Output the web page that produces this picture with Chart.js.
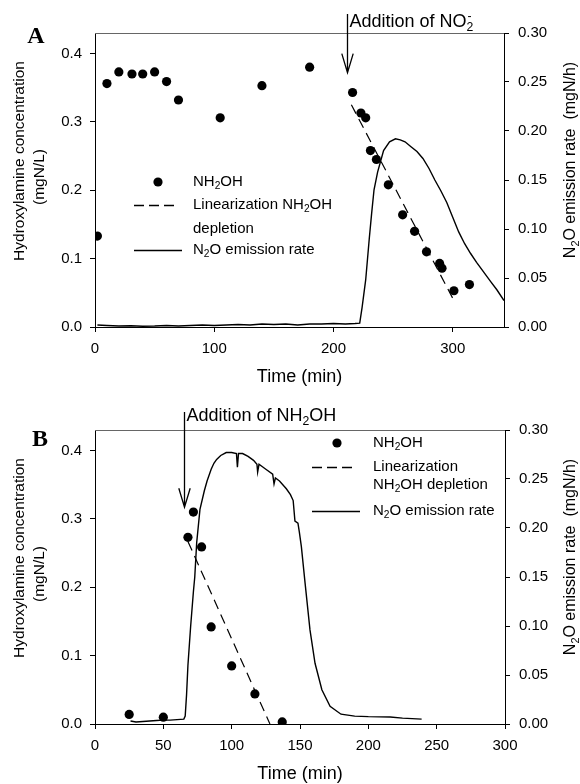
<!DOCTYPE html>
<html>
<head>
<meta charset="utf-8">
<script src="https://cdn.jsdelivr.net/npm/chart.js@4/dist/chart.umd.min.js"></script>
<style>
  html, body { margin: 0; padding: 0; background: #fff; }
  #wrap { position: relative; width: 580px; height: 784px; }
  canvas { position: absolute; left: 0; }
</style>
</head>
<body>
<div id="wrap">
  <canvas id="chartA" width="580" height="392" style="top:0"></canvas>
  <canvas id="chartB" width="580" height="392" style="top:392px"></canvas>
</div>
<script>
// ---- panel A data ----
const timeA  = [2, 10, 20, 31, 40, 50, 60, 70, 105, 140, 180, 216, 223, 227, 231, 236, 246, 258, 268, 278, 289, 291, 301, 314];
const nh2ohA = [0.133, 0.356, 0.373, 0.370, 0.370, 0.373, 0.359, 0.332, 0.306, 0.353, 0.380, 0.343, 0.313, 0.306, 0.258, 0.245, 0.208, 0.164, 0.140, 0.110, 0.093, 0.086, 0.053, 0.062];
const fitTimeA = [215, 300];
const fitA     = [0.325, 0.042];
const n2oTimeA = [2, 10, 20, 30, 40, 50, 60, 70, 80, 90, 100, 110, 120, 130, 140, 150, 160, 170, 180, 190, 200, 210, 218, 222,
  224, 227, 230, 232, 234, 237, 242, 247, 252, 256, 260, 265, 270, 275, 280, 285, 290, 295, 300, 305, 310, 315, 320, 326, 332, 337, 343];
const n2oA = [0.002, 0.0015, 0.001, 0.0012, 0.0008, 0.001, 0.0015, 0.001, 0.0015, 0.002, 0.0015, 0.002, 0.0025, 0.002, 0.003, 0.0025, 0.003, 0.002, 0.003, 0.003, 0.0035, 0.003, 0.0035, 0.004,
  0.02, 0.048, 0.09, 0.116, 0.14, 0.158, 0.18, 0.189, 0.192, 0.191, 0.189, 0.184, 0.179, 0.172, 0.162, 0.150, 0.139, 0.127, 0.112, 0.097, 0.085, 0.075, 0.066, 0.056, 0.046, 0.038, 0.027];
const xTicksA = [0, 100, 200, 300];

// ---- panel B data ----
const timeB  = [25, 50, 68, 72, 78, 85, 100, 117, 137];
const nh2ohB = [0.014, 0.010, 0.273, 0.310, 0.259, 0.142, 0.085, 0.044, 0.003];
const fitTimeB = [68, 128];
const fitB     = [0.267, 0.0];
const n2oTimeB = [26, 30, 35, 40, 45, 50, 55, 60, 65, 66, 67, 68, 70, 72, 73, 74.4, 76.8, 80, 82, 85, 87, 89, 92, 96, 100, 103.5, 104.2, 105, 108, 112, 116, 118.5, 119, 120, 125, 130, 131, 132, 135, 140, 143,
  145, 146.3, 148.5, 149.5, 151, 153.7, 157.3, 161, 166, 172, 180, 190, 200, 216, 225, 232, 239];
const n2oB = [0.003, 0.002, 0.0025, 0.003, 0.0035, 0.004, 0.004, 0.0045, 0.005, 0.008, 0.03, 0.06, 0.10, 0.135, 0.15, 0.185, 0.219, 0.238, 0.248, 0.260, 0.266, 0.270, 0.274, 0.277, 0.277, 0.276, 0.262, 0.276, 0.276, 0.273, 0.269, 0.265, 0.257, 0.265, 0.260, 0.255, 0.245, 0.251, 0.248, 0.24, 0.234,
  0.228, 0.207, 0.205, 0.196, 0.181, 0.144, 0.096, 0.062, 0.035, 0.018, 0.010, 0.008, 0.0075, 0.0072, 0.006, 0.0055, 0.005];
const xTicksB = [0, 50, 100, 150, 200, 250, 300];

// shared axis ticks
const yTicks  = [0, 0.1, 0.2, 0.3, 0.4];
const y2Ticks = [0, 0.05, 0.10, 0.15, 0.20, 0.25, 0.30];

const FONT = '"Liberation Sans", Arial, sans-serif';
Chart.defaults.font.family = FONT;
Chart.defaults.color = '#000';

// text with sub (1) / sup stacked over previous sub (2)
function drawRich(ctx, parts, x, y, size, align) {
  const small = size * 0.68;
  let w = 0, prevW = 0;
  const items = parts.map(([t, k = 0]) => {
    ctx.font = (k ? small : size) + 'px ' + FONT;
    const tw = ctx.measureText(t).width;
    let dx = w;
    if (k === 2) { dx = w - prevW + 1; w += Math.max(0, tw - prevW + 1); }
    else w += tw;
    prevW = tw;
    return { t, k, dx };
  });
  const x0 = align === 'center' ? x - w / 2 : x;
  ctx.textAlign = 'left';
  ctx.textBaseline = 'middle';
  for (const it of items) {
    ctx.font = (it.k ? small : size) + 'px ' + FONT;
    const dy = it.k === 1 ? size * 0.3 : (it.k === 2 ? -size * 0.32 : 0);
    ctx.fillText(it.t, x0 + it.dx, y + dy);
  }
}

const NH2OH = [['NH'], ['2', 1], ['OH']];
const N2O_RATE = [['N'], ['2', 1], ['O emission rate']];

function decor(p) {
  return {
    id: 'decor' + p.label,
    afterDraw(chart) {
      const ctx = chart.ctx, a = chart.chartArea;
      const xs = chart.scales.x, ys = chart.scales.y;
      ctx.save();
      ctx.fillStyle = '#000';

      // top of the frame
      ctx.strokeStyle = '#666';
      ctx.lineWidth = 1;
      ctx.beginPath();
      ctx.moveTo(a.left, Math.round(a.top) + 0.5);
      ctx.lineTo(a.right, Math.round(a.top) + 0.5);
      ctx.stroke();
      ctx.strokeStyle = '#000';

      // panel letter
      ctx.font = 'bold 24px "Liberation Serif", serif';
      ctx.textAlign = 'center';
      ctx.textBaseline = 'middle';
      ctx.fillText(p.label, p.labelX, p.labelY);

      // addition arrow
      const ax = Math.round(xs.getPixelForValue(p.arrowT)) + 0.5;
      const tip = ys.getPixelForValue(p.arrowTip);
      ctx.lineWidth = 1.3;
      ctx.beginPath();
      ctx.moveTo(ax, p.arrowTop);
      ctx.lineTo(ax, tip);
      ctx.moveTo(ax - 5.7, tip - 19);
      ctx.lineTo(ax, tip);
      ctx.lineTo(ax + 5.7, tip - 19);
      ctx.stroke();
      drawRich(ctx, p.arrowText, ax + 2, p.arrowTextY, 18, 'left');

      // axis titles
      ctx.save();
      ctx.translate(19.5, a.top + 128);
      ctx.rotate(-Math.PI / 2);
      drawRich(ctx, [['Hydroxylamine concentration']], 0, 0, 15.5, 'center');
      ctx.restore();
      ctx.save();
      ctx.translate(39.5, a.top + 144);
      ctx.rotate(-Math.PI / 2);
      drawRich(ctx, [['(mgN/L)']], 0, 0, 15.5, 'center');
      ctx.restore();
      ctx.save();
      ctx.translate(571, a.top + 127);
      ctx.rotate(-Math.PI / 2);
      drawRich(ctx, [['N'], ['2', 1], ['O emission rate  (mgN/h)']], 0, 0, 16, 'center');
      ctx.restore();
      drawRich(ctx, [['Time (min)']], (a.left + a.right) / 2, a.bottom + 50, 18, 'center');

      // legend
      const L = p.legend;
      for (const row of L.rows) {
        if (row.kind === 'point') {
          ctx.beginPath();
          ctx.arc(L.markerX, row.y, 4.6, 0, Math.PI * 2);
          ctx.fill();
        } else {
          const ly = Math.round(row.y) + 0.5;
          ctx.lineWidth = 1.3;
          ctx.setLineDash(row.kind === 'dash' ? [10, 5] : []);
          ctx.beginPath();
          ctx.moveTo(L.lineX1, ly);
          ctx.lineTo(row.kind === 'dash' ? L.dashX2 : L.solidX2, ly);
          ctx.stroke();
          ctx.setLineDash([]);
        }
        row.lines.forEach((parts, i) => drawRich(ctx, parts, L.textX, row.y + i * row.gap, 15, 'left'));
      }
      ctx.restore();
    }
  };
}

function axis(pos, max, ticks, fmt, size, pad) {
  return {
    type: 'linear', position: pos, axis: pos === 'bottom' ? 'x' : 'y', min: 0, max: max,
    afterBuildTicks: s => { s.ticks = ticks.map(v => ({ value: v })); },
    afterFit: s => { if (pos === 'bottom') s.height = size; else s.width = size; },
    grid: { drawOnChartArea: false, drawTicks: true, tickLength: 5, color: '#000', lineWidth: 1 },
    border: { display: true, color: '#000', width: 1 },
    ticks: { color: '#000', font: { size: 15 }, padding: pad, autoSkip: false, maxRotation: 0, callback: v => fmt(v) }
  };
}

function makeChart(id, p) {
  const pts = (xs, ys) => xs.map((t, i) => ({ x: t, y: ys[i] }));
  return new Chart(document.getElementById(id), {
    type: 'scatter',
    data: {
      datasets: [
        { data: pts(p.time, p.nh2oh), yAxisID: 'y', showLine: false, pointRadius: 4.6,
          pointBackgroundColor: '#000', pointBorderWidth: 0 },
        { data: pts(p.fitTime, p.fit), yAxisID: 'y', showLine: true, borderColor: '#000',
          borderWidth: 1.2, borderDash: [10, 6], pointRadius: 0 },
        { data: pts(p.n2oTime, p.n2o), yAxisID: 'y2', showLine: true, borderColor: '#000',
          borderWidth: 1.4, pointRadius: 0, tension: 0 }
      ]
    },
    options: {
      responsive: false, animation: false, events: [],
      layout: { padding: { top: p.top, left: 0, right: 0, bottom: 0 } },
      plugins: { legend: { display: false }, tooltip: { enabled: false } },
      scales: {
        x: axis('bottom', p.xMax, p.xTicks, v => String(v), p.xHeight, 8),
        y: axis('left', 0.43, yTicks, v => v.toFixed(1), 95, 8),
        y2: axis('right', 0.30, y2Ticks, v => v.toFixed(2), p.y2Width, 9)
      }
    },
    plugins: [decor(p)]
  });
}

makeChart('chartA', {
  label: 'A', labelX: 36, labelY: 37,
  time: timeA, nh2oh: nh2ohA, fitTime: fitTimeA, fit: fitA, n2oTime: n2oTimeA, n2o: n2oA,
  xTicks: xTicksA, xMax: 343, top: 33, xHeight: 65, y2Width: 76,
  arrowT: 211.5, arrowTip: 0.372, arrowTop: 14, arrowTextY: 22,
  arrowText: [['Addition of NO'], ['2', 1], ['-', 2]],
  legend: {
    markerX: 158, lineX1: 134, dashX2: 177, solidX2: 182, textX: 193,
    rows: [
      { kind: 'point', y: 182, gap: 0, lines: [NH2OH] },
      { kind: 'dash', y: 205, gap: 24, lines: [[['Linearization NH'], ['2', 1], ['OH']], [['depletion']]] },
      { kind: 'solid', y: 250, gap: 0, lines: [N2O_RATE] }
    ]
  }
});

makeChart('chartB', {
  label: 'B', labelX: 40, labelY: 48,
  time: timeB, nh2oh: nh2ohB, fitTime: fitTimeB, fit: fitB, n2oTime: n2oTimeB, n2o: n2oB,
  xTicks: xTicksB, xMax: 300, top: 38, xHeight: 60, y2Width: 75,
  arrowT: 65, arrowTip: 0.317, arrowTop: 20, arrowTextY: 24,
  arrowText: [['Addition of NH'], ['2', 1], ['OH']],
  legend: {
    markerX: 337, lineX1: 312, dashX2: 355, solidX2: 360, textX: 373,
    rows: [
      { kind: 'point', y: 51, gap: 0, lines: [NH2OH] },
      { kind: 'dash', y: 75, gap: 18, lines: [[['Linearization']], [['NH'], ['2', 1], ['OH depletion']]] },
      { kind: 'solid', y: 119, gap: 0, lines: [N2O_RATE] }
    ]
  }
});
</script>
</body>
</html>
